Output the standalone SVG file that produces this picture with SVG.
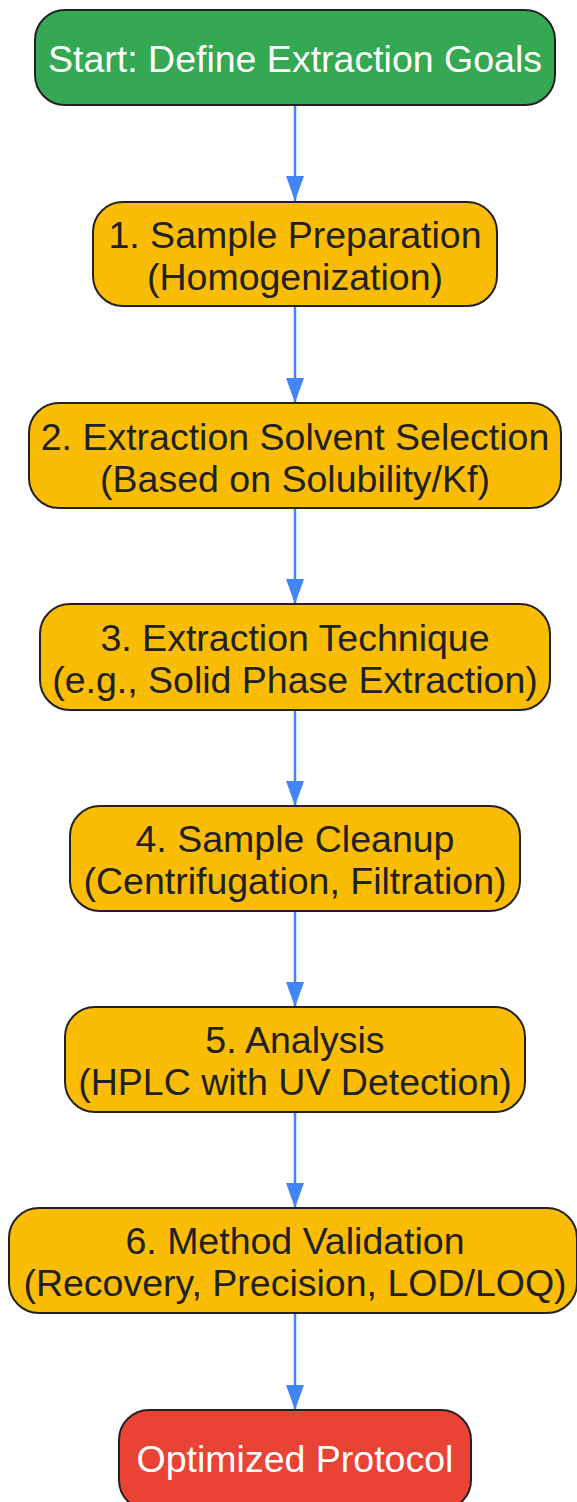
<svg xmlns="http://www.w3.org/2000/svg" width="577" height="1502" viewBox="0 0 577 1502">
<defs>
<style>
.n rect{stroke:#222222;stroke-width:2}
.g rect{fill:#34A853}
.y rect{fill:#FBBC05}
.r rect{fill:#EA4335}
text{font-family:"Liberation Sans",Arial,sans-serif;font-size:37.5px;text-anchor:middle}
.g text,.r text{fill:#ffffff}
.y text{fill:#202124}
.e line{stroke:#4285F4;stroke-width:2.5;fill:none}
</style>
<marker id="ah" viewBox="0 0 25 18" refX="25" refY="9" markerWidth="25" markerHeight="18" markerUnits="userSpaceOnUse" orient="auto">
<path d="M0,0 L25,9 L0,18 Z" fill="#4285F4"/>
</marker>
</defs>
<rect width="577" height="1502" fill="#ffffff"/>
<g id="edges" class="e">
<line x1="295" y1="106" x2="295" y2="201" marker-end="url(#ah)"/>
<line x1="295" y1="306" x2="295" y2="403" marker-end="url(#ah)"/>
<line x1="295" y1="508" x2="295" y2="604" marker-end="url(#ah)"/>
<line x1="295" y1="710" x2="295" y2="806" marker-end="url(#ah)"/>
<line x1="295" y1="911" x2="295" y2="1007" marker-end="url(#ah)"/>
<line x1="295" y1="1112" x2="295" y2="1208" marker-end="url(#ah)"/>
<line x1="295" y1="1313" x2="295" y2="1410" marker-end="url(#ah)"/>
</g>
<g id="start" class="n g">
<rect x="35" y="10" width="520" height="95" rx="30"/>
<text x="295" y="72">Start: Define Extraction Goals</text>
</g>
<g id="step1" class="n y">
<rect x="93" y="202" width="404" height="104" rx="30"/>
<text x="295" y="248">1. Sample Preparation</text>
<text x="295" y="290">(Homogenization)</text>
</g>
<g id="step2" class="n y">
<rect x="29" y="403" width="532" height="105" rx="30"/>
<text x="295" y="450">2. Extraction Solvent Selection</text>
<text x="295" y="492">(Based on Solubility/Kf)</text>
</g>
<g id="step3" class="n y">
<rect x="40" y="604" width="510" height="106" rx="30"/>
<text x="295" y="651">3. Extraction Technique</text>
<text x="295" y="693">(e.g., Solid Phase Extraction)</text>
</g>
<g id="step4" class="n y">
<rect x="70" y="806" width="450" height="105" rx="30"/>
<text x="295" y="852">4. Sample Cleanup</text>
<text x="295" y="894">(Centrifugation, Filtration)</text>
</g>
<g id="step5" class="n y">
<rect x="65" y="1007" width="460" height="105" rx="30"/>
<text x="295" y="1053">5. Analysis</text>
<text x="295" y="1095">(HPLC with UV Detection)</text>
</g>
<g id="step6" class="n y">
<rect x="9" y="1208" width="568" height="105" rx="30"/>
<text x="295" y="1254">6. Method Validation</text>
<text x="295" y="1296">(Recovery, Precision, LOD/LOQ)</text>
</g>
<g id="end" class="n r">
<rect x="119" y="1410" width="352" height="100" rx="30"/>
<text x="295" y="1472">Optimized Protocol</text>
</g>
</svg>
